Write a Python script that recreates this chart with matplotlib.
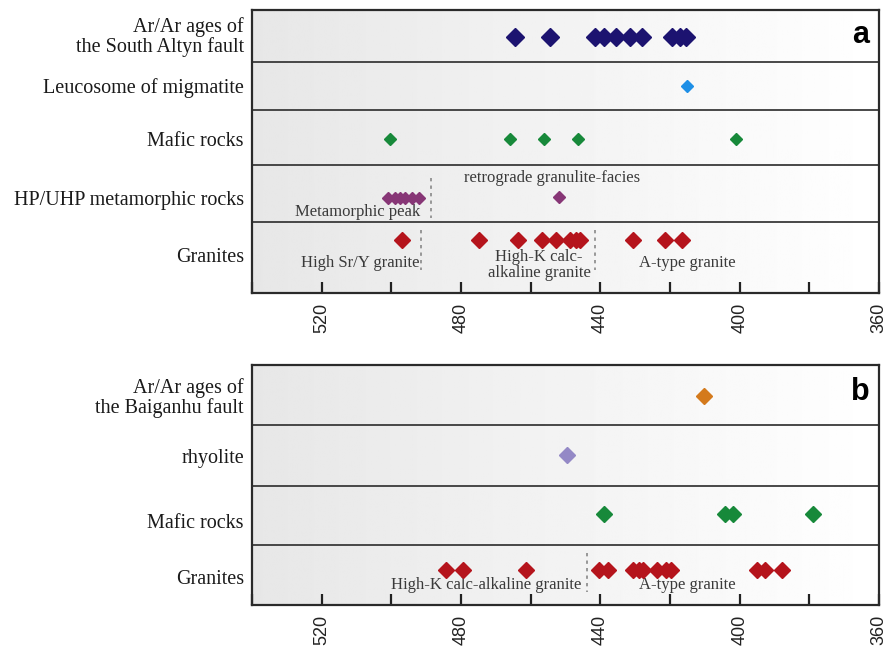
import numpy as np
import matplotlib
matplotlib.use("Agg")
import matplotlib.pyplot as plt

# ---------------- data (ages in Ma) ----------------
a_rows = ["Ar/Ar ages of\nthe South Altyn fault", "Leucosome of migmatite",
          "Mafic rocks", "HP/UHP metamorphic rocks", "Granites"]
a_arar = [464.5, 454.5, 441.5, 439.0, 435.5, 431.5, 428.0, 419.5, 417.0, 415.5]
a_leuco = [415.0]
a_mafic = [500.4, 466.0, 456.2, 446.4, 401.0]
a_hp_peak = [501.0, 499.0, 497.5, 496.0, 494.0, 492.0]
a_hp_retro = [451.8]
a_granites = [497.0, 474.7, 463.7, 456.8, 452.7, 448.7, 447.0, 445.8, 430.5, 421.5, 416.6]
a_granite_div = [491.5, 441.5]
a_hp_div = [488.5]

b_rows = ["Ar/Ar ages of\nthe Baiganhu fault", "rhyolite", "Mafic rocks", "Granites"]
b_arar = [410.2]
b_rhyolite = [449.5]
b_mafic = [439.0, 404.3, 402.0, 379.0]
b_granites = [484.4, 479.5, 461.2, 440.5, 437.8, 430.6, 428.8, 427.7, 423.6,
              421.2, 419.8, 394.9, 392.6, 387.9]
b_granite_div = [443.8]

tick_values = [540, 520, 500, 480, 460, 440, 420, 400, 380, 360]
tick_labels = ["", "520", "", "480", "", "440", "", "400", "", "360"]

# ---------------- styling ----------------
SERIF = ["Liberation Serif", "DejaVu Serif"]
SANS = ["Liberation Sans", "DejaVu Sans"]
NAVY = "#1c1370"
BLUE = "#1e8fe6"
GREEN = "#17893a"
PURPLE = "#873676"
RED = "#b5141c"
ORANGE = "#d47a1c"
LAVENDER = "#9489c6"
ANN = "#3a3a3a"

fig = plt.figure(figsize=(8.85, 6.53), dpi=100)
W, H = 885, 653


def make_axes(top_px, bottom_px):
    left, right = 252, 879
    ax = fig.add_axes([left / W, 1 - bottom_px / H, (right - left) / W,
                       (bottom_px - top_px) / H])
    ax.set_xlim(540, 360)
    ax.set_ylim(bottom_px, top_px)
    # light gradient background
    grad = np.linspace(0.905, 1.0, 256).reshape(1, -1)
    ax.imshow(grad, cmap="gray", vmin=0, vmax=1, aspect="auto",
              extent=[540, 360, bottom_px, top_px], zorder=0)
    ax.set_yticks([])
    ax.set_xticks(tick_values)
    ax.set_xticklabels(tick_labels, rotation=90, fontsize=13, family=SANS,
                       color="#222222")
    ax.tick_params(axis="x", direction="in", length=8, width=1.6, pad=7,
                   colors="#222222")
    for s in ax.spines.values():
        s.set_linewidth(1.6)
        s.set_color("#2a2a2a")
    return ax


def row_label(ax, y, text):
    ax.text(-0.013, y, text, transform=ax.get_yaxis_transform(), ha="right",
            va="center", fontsize=14.5, family=SERIF, color="#1a1a1a",
            linespacing=1.0)


def divider(ax, y):
    ax.axhline(y, color="#3a3a3a", lw=1.3, zorder=2)


def points(ax, xs, y, color, ms):
    ax.plot(xs, [y] * len(xs), ls="none", marker="D", ms=ms, color=color,
            mec=color, zorder=5)


def dashed(ax, x, y0, y1):
    ax.plot([x, x], [y0, y1], ls=(0, (2, 2.5)), color="#888888", lw=1.2, zorder=3)


def ann(ax, x, y, text, ha="center"):
    ax.text(x, y, text, ha=ha, va="center", fontsize=12, family=SERIF,
            color=ANN, zorder=4, linespacing=1.0)


# ---------------- panel a ----------------
axa = make_axes(10, 293)
for y in [62, 110, 165, 222]:
    divider(axa, y)
for y, t in zip([37, 88, 141, 201, 257], a_rows):
    row_label(axa, y, t)

points(axa, a_arar, 37, NAVY, 9.5)
points(axa, a_leuco, 86, BLUE, 6.5)
points(axa, a_mafic, 139, GREEN, 6.5)
points(axa, a_hp_peak, 198, PURPLE, 6.5)
points(axa, a_hp_retro, 197, PURPLE, 6.5)
points(axa, a_granites, 240, RED, 8)

dashed(axa, a_hp_div[0], 178, 218)
ann(axa, 454, 178, "retrograde granulite-facies")
ann(axa, 509.6, 212, "Metamorphic peak")
for d in a_granite_div:
    dashed(axa, d, 230, 270)
ann(axa, 508.8, 263, "High Sr/Y granite")
ann(axa, 457.6, 265, "High-K calc-\nalkaline granite")
ann(axa, 415, 263, "A-type granite")
axa.text(0.985, 43, "a", transform=axa.get_yaxis_transform(), ha="right",
         va="baseline", fontsize=22, fontweight="bold", family=SANS)

# ---------------- panel b ----------------
axb = make_axes(365, 605)
for y in [425, 486, 545]:
    divider(axb, y)
for y, t in zip([398, 459, 524, 580], b_rows):
    row_label(axb, y, t)

points(axb, b_arar, 396, ORANGE, 8)
points(axb, b_rhyolite, 455, LAVENDER, 8)
points(axb, b_mafic, 514, GREEN, 8)
points(axb, b_granites, 570, RED, 8)

for d in b_granite_div:
    dashed(axb, d, 553, 592)
ann(axb, 472.7, 585, "High-K calc-alkaline granite")
ann(axb, 415, 585, "A-type granite")
axb.text(0.985, 400, "b", transform=axb.get_yaxis_transform(), ha="right",
         va="baseline", fontsize=22, fontweight="bold", family=SANS)

fig.savefig("out.png", dpi=100)
